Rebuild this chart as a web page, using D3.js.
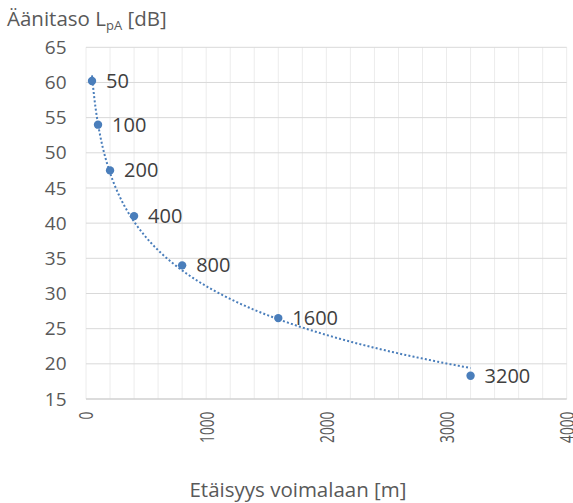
<!DOCTYPE html>
<html>
<head>
<meta charset="utf-8">
<script src="https://cdn.jsdelivr.net/npm/d3@7"></script>
<style>
  html, body { margin: 0; padding: 0; background: #fff; }
  svg { display: block; font-family: "Open Sans", "DejaVu Sans", sans-serif; }
</style>
</head>
<body>
<svg id="chart" width="573" height="503"></svg>
<script>
// Data
const distances = [50, 100, 200, 400, 800, 1600, 3200];
const levels = [60.2, 54.0, 47.5, 41.0, 34.0, 26.5, 18.3];
const pointLabels = ["50", "100", "200", "400", "800", "1600", "3200"];
const xTicks = [0, 1000, 2000, 3000, 4000];
const yTicks = [15, 20, 25, 30, 35, 40, 45, 50, 55, 60, 65];
const xMinorTicks = d3.range(0, 4001, 200);
const xTitle = "Etäisyys voimalaan [m]";
const yTitleMain = "Äänitaso L";
const yTitleSub = "pA";
const yTitleEnd = " [dB]";

(function () {
const svg = d3.select("#chart");
const pL = 86, pR = 566.7, pT = 47.3, pB = 399;
const x = d3.scaleLinear().domain([0, 4000]).range([pL, pR]);
const y = d3.scaleLinear().domain([15, 65]).range([pB, pT]);
const textColor = "#595959";
const blue = "#4a7ebb";
const fam = "'Open Sans', 'DejaVu Sans', sans-serif";

// Vertical gridlines (every 200)
svg.append("g").selectAll("line").data(xMinorTicks).join("line")
  .attr("x1", d => x(d)).attr("x2", d => x(d))
  .attr("y1", pT).attr("y2", pB)
  .attr("stroke", "#ececec").attr("stroke-width", 1);

// Horizontal gridlines
svg.append("g").selectAll("line").data(yTicks.filter(d => d !== 15)).join("line")
  .attr("x1", pL).attr("x2", pR)
  .attr("y1", d => y(d)).attr("y2", d => y(d))
  .attr("stroke", "#d9d9d9").attr("stroke-width", 1);

// Bottom axis line
svg.append("line")
  .attr("x1", pL).attr("x2", pR)
  .attr("y1", y(15)).attr("y2", y(15))
  .attr("stroke", "#d0d0d0").attr("stroke-width", 1.5);

// Y axis labels
const yAxis = d3.axisLeft(y).tickValues(yTicks).tickSize(0).tickPadding(0);
const yg = svg.append("g").attr("transform", `translate(${pL - 19.5},0)`).call(yAxis);
yg.select(".domain").remove();
yg.selectAll("text").attr("fill", textColor).attr("font-size", 19)
  .attr("font-family", fam);

// X axis labels (rotated, condensed along the text direction)
const xAxis = d3.axisBottom(x).tickValues(xTicks).tickSize(0).tickFormat(d3.format("d"));
const xg = svg.append("g").attr("transform", `translate(0,${pB})`).call(xAxis);
xg.select(".domain").remove();
xg.selectAll("text")
  .attr("fill", textColor).attr("font-size", 19.6)
  .attr("font-family", fam)
  .attr("transform", "rotate(-90) scale(0.7,1)")
  .attr("text-anchor", "end")
  .attr("x", -18).attr("y", 0).attr("dy", "0.35em");

// Logarithmic trendline from least squares fit of the data
const lnx = distances.map(Math.log);
const mx = d3.mean(lnx), my = d3.mean(levels);
const b = d3.sum(lnx.map((v, i) => (v - mx) * (levels[i] - my))) / d3.sum(lnx.map(v => (v - mx) ** 2));
const a = my - b * mx;
const trendX = d3.range(distances[0], distances[distances.length - 1] + 1, 10);
const line = d3.line().x(d => x(d)).y(d => y(a + b * Math.log(d)));
svg.append("path").datum(trendX)
  .attr("d", line).attr("fill", "none")
  .attr("stroke", blue).attr("stroke-width", 2)
  .attr("stroke-dasharray", "2,2.2");

// Points
svg.append("g").selectAll("circle").data(distances).join("circle")
  .attr("cx", d => x(d)).attr("cy", (d, i) => y(levels[i]))
  .attr("r", 4.2).attr("fill", blue);

// Point labels
svg.append("g").selectAll("text").data(distances).join("text")
  .attr("x", d => x(d) + 14).attr("y", (d, i) => y(levels[i]))
  .attr("dy", "0.35em")
  .attr("fill", "#404040").attr("font-size", 20)
  .attr("font-family", fam)
  .text((d, i) => pointLabels[i]);

// Axis titles
svg.append("text")
  .attr("x", 298).attr("y", 497)
  .attr("text-anchor", "middle")
  .attr("fill", textColor).attr("font-size", 20.5)
  .attr("font-family", fam)
  .text(xTitle);

const yt = svg.append("text").attr("x", 7).attr("y", 26)
  .attr("fill", textColor).attr("font-size", 20.5)
  .attr("font-family", fam);
yt.append("tspan").text(yTitleMain);
yt.append("tspan").attr("font-size", 13).attr("dy", 4).text(yTitleSub);
yt.append("tspan").attr("dy", -4).text(yTitleEnd);
})();
</script>
</body>
</html>
